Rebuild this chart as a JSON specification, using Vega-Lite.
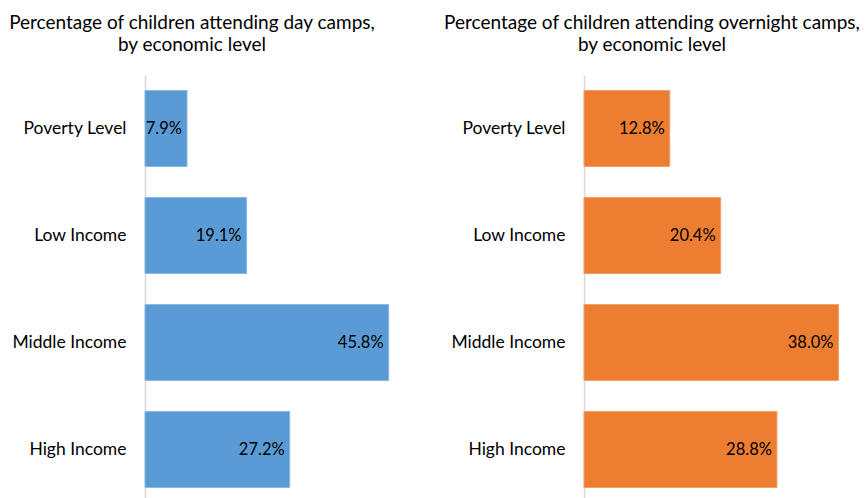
{
  "$schema": "https://vega.github.io/schema/vega-lite/v6.json",
  "padding": {"left": 8, "top": 14, "right": 0, "bottom": 0},
  "background": "white",
  "config": {
    "view": {"stroke": null},
    "font": "Lato",
    "concat": {"spacing": 32}
  },
  "datasets": {
    "day": [
      {"level": "Poverty Level", "share": 0.079},
      {"level": "Low Income", "share": 0.191},
      {"level": "Middle Income", "share": 0.458},
      {"level": "High Income", "share": 0.272}
    ],
    "overnight": [
      {"level": "Poverty Level", "share": 0.128},
      {"level": "Low Income", "share": 0.204},
      {"level": "Middle Income", "share": 0.380},
      {"level": "High Income", "share": 0.288}
    ]
  },
  "hconcat": [
    {
      "width": 266,
      "height": 428,
      "data": {"name": "day"},
      "title": {"text": ["Percentage of children attending day camps,", "by economic level"], "anchor": "middle", "frame": "group", "dx": -86, "limit": 600, "fontSize": 19, "fontWeight": "normal", "color": "#000000", "lineHeight": 22, "offset": 20},
      "encoding": {
        "y": {"field": "level", "type": "nominal", "sort": ["Poverty Level", "Low Income", "Middle Income", "High Income"],
              "scale": {"paddingInner": 0.29, "paddingOuter": 0.145},
              "axis": {"title": null, "ticks": false, "domainColor": "#d9d9d9", "domainWidth": 1.5, "labelFontSize": 17.5, "labelColor": "#000000", "labelPadding": 19}},
        "x": {"field": "share", "type": "quantitative", "scale": {"domain": [0, 0.5]}, "axis": null}
      },
      "layer": [
        {"mark": {"type": "bar", "color": "#5B9BD5", "stroke": "#8AB8E3", "strokeWidth": 1}},
        {"mark": {"type": "text", "align": "right", "dx": -5, "fontSize": 16.5, "color": "#000000"},
         "encoding": {"text": {"field": "share", "type": "quantitative", "format": ".1%"}}}
      ]
    },
    {
      "width": 268,
      "height": 428,
      "data": {"name": "overnight"},
      "title": {"text": ["Percentage of children attending overnight camps,", "by economic level"], "anchor": "middle", "frame": "group", "dx": -66, "limit": 600, "fontSize": 19, "fontWeight": "normal", "color": "#000000", "lineHeight": 22, "offset": 20},
      "encoding": {
        "y": {"field": "level", "type": "nominal", "sort": ["Poverty Level", "Low Income", "Middle Income", "High Income"],
              "scale": {"paddingInner": 0.29, "paddingOuter": 0.145},
              "axis": {"title": null, "ticks": false, "domainColor": "#d9d9d9", "domainWidth": 1.5, "labelFontSize": 17.5, "labelColor": "#000000", "labelPadding": 19}},
        "x": {"field": "share", "type": "quantitative", "scale": {"domain": [0, 0.4]}, "axis": null}
      },
      "layer": [
        {"mark": {"type": "bar", "color": "#ED7D31", "stroke": "#F2A06A", "strokeWidth": 1}},
        {"mark": {"type": "text", "align": "right", "dx": -5, "fontSize": 16.5, "color": "#000000"},
         "encoding": {"text": {"field": "share", "type": "quantitative", "format": ".1%"}}}
      ]
    }
  ]
}
